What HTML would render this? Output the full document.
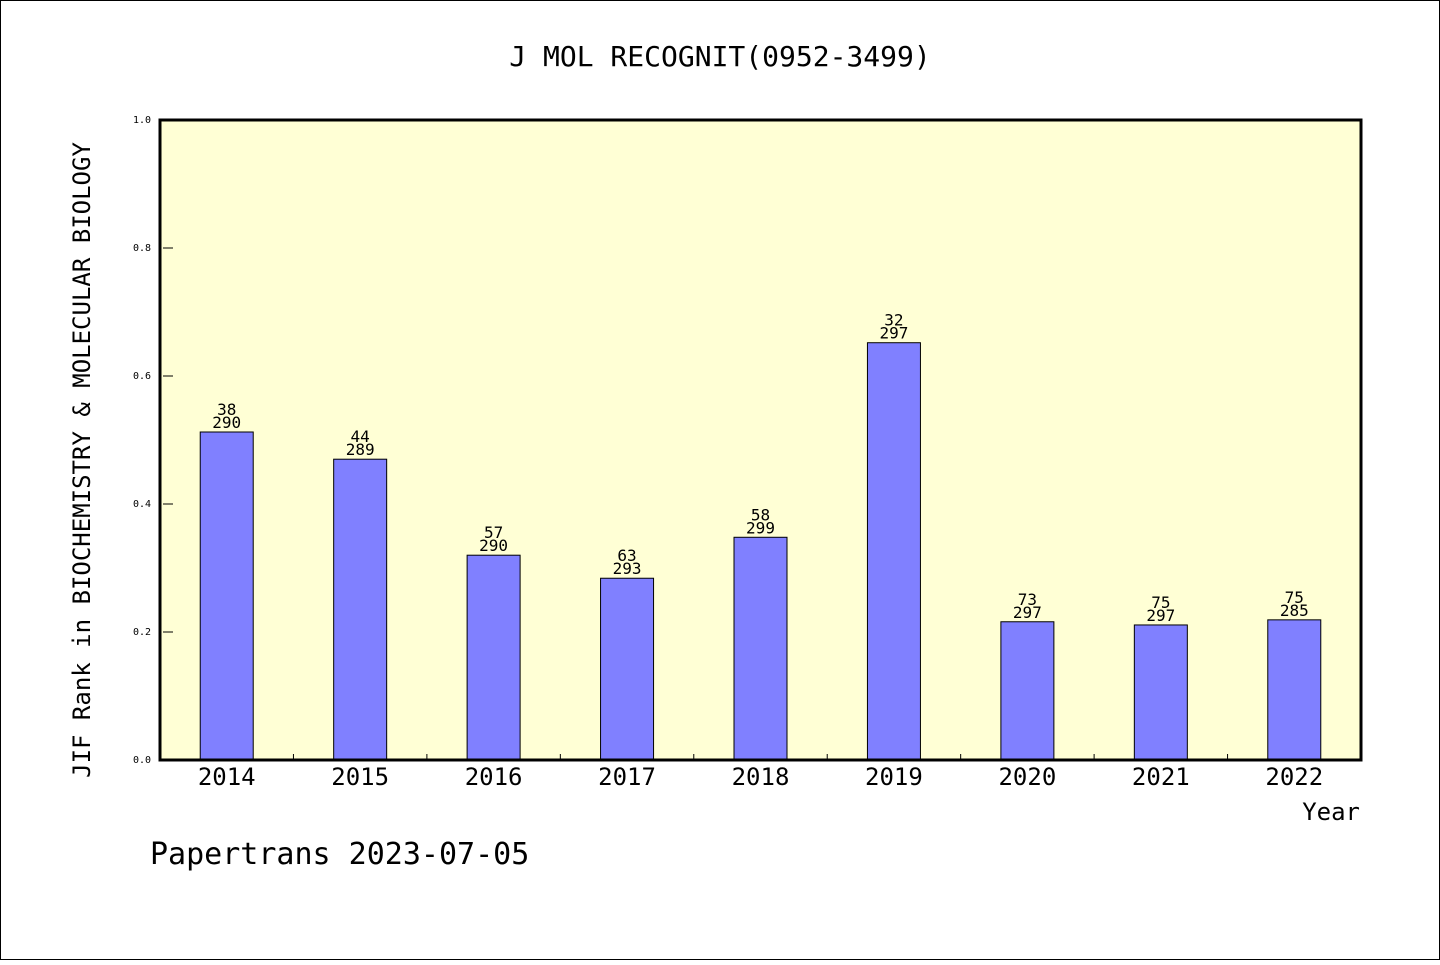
<!DOCTYPE html>
<html><head><meta charset="utf-8"><style>
body{margin:0;background:#fff}
svg text{font-family:"DejaVu Sans Mono","Liberation Mono",monospace;fill:#000}
</style></head><body>
<svg width="1440" height="960" xmlns="http://www.w3.org/2000/svg">
<rect x="0.5" y="0.5" width="1439" height="959" fill="#fff" stroke="#000"/>
<text x="720" y="66" text-anchor="middle" font-size="28">J MOL RECOGNIT(0952-3499)</text>
<rect x="160" y="120" width="1201" height="640" fill="#ffffd5"/>
<g id="bars"></g>
<rect x="160" y="120" width="1201" height="640" fill="none" stroke="#000" stroke-width="3"/>
<g id="axes"></g>
<text transform="translate(90,460) rotate(-90)" text-anchor="middle" font-size="24">JIF Rank in BIOCHEMISTRY &amp; MOLECULAR BIOLOGY</text>
<text x="1360" y="820" text-anchor="end" font-size="24">Year</text>
<text x="150" y="864" font-size="30">Papertrans 2023-07-05</text>
</svg>
<script>
const categories=["2014","2015","2016","2017","2018","2019","2020","2021","2022"];
const values=[0.5125,0.470,0.320,0.284,0.348,0.652,0.216,0.211,0.219];
const ranks=[38,44,57,63,58,32,73,75,75];
const totals=[290,289,290,293,299,297,297,297,285];
const yTicks=[0,0.2,0.4,0.6,0.8,1.0];
const X0=160,W=1201,Y0=760,H=640;
const band=W/categories.length;
const xc=i=>X0+band*(i+0.5);
const y=v=>Y0-v*H;
const NS="http://www.w3.org/2000/svg";
function mk(t,a,p){const e=document.createElementNS(NS,t);for(const k in a)e.setAttribute(k,a[k]);p.appendChild(e);return e;}
const gb=document.getElementById('bars'),ga=document.getElementById('axes');
categories.forEach((c,i)=>{
 const r=mk('rect',{x:xc(i)-26.5,y:y(values[i]),width:53,height:values[i]*H,fill:'#8080ff',stroke:'#000','stroke-width':1},gb);
 
 
 const t1=mk('text',{x:xc(i),y:y(values[i])-17,'text-anchor':'middle','font-size':16},gb);t1.textContent=ranks[i];
 
 
 const t2=mk('text',{x:xc(i),y:y(values[i])-4,'text-anchor':'middle','font-size':16},gb);t2.textContent=totals[i];
 
 
 const xl=mk('text',{x:xc(i),y:785,'text-anchor':'middle','font-size':24},ga);xl.textContent=c;
 
 
 if(i>0){const tk=mk('line',{x1:X0+band*i,x2:X0+band*i,y1:760,y2:754,stroke:'#000'},ga);
 
 }
});
yTicks.forEach(v=>{
 const l=mk('line',{x1:163,x2:173,y1:y(v),y2:y(v),stroke:'#000'},ga);
 
 
 const t=mk('text',{x:151,y:y(v)+3,'text-anchor':'end','font-size':10},ga);t.textContent=v.toFixed(1);
 
 
});
</script>
</body></html>
